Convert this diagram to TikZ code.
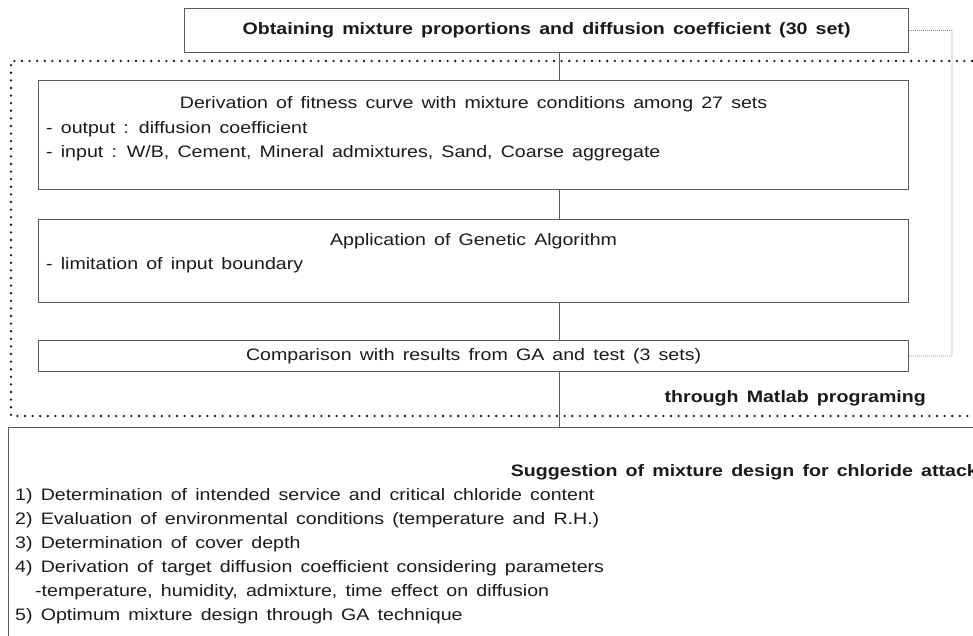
\documentclass[tikz,border=0pt]{standalone}
\usepackage{fontspec}
\setmainfont{Liberation Sans}[FakeStretch=1.18, WordSpace=1.5]
\usetikzlibrary{positioning,calc}
\definecolor{frame}{HTML}{5A5A5A}
\definecolor{ink}{HTML}{1A1A1A}
\definecolor{lead}{HTML}{8C8C8C}

\begin{document}
\begin{tikzpicture}[x=1pt, y=-1pt, font=\fontsize{16.6}{20}\selectfont, text=ink,
      box/.style={draw=frame, line width=1.2pt, anchor=north west, inner sep=0pt},
      title/.style={inner sep=0pt, anchor=center},
      item/.style={inner sep=0pt, anchor=west},
      heavy/.style={inner sep=0pt, anchor=east, font=\fontsize{16.6}{20}\selectfont\bfseries},
      link/.style={draw=frame, line width=0.9pt},
      loop/.style={draw=lead, line width=0.8pt, dash pattern=on 1pt off 1pt},
      zone/.style={draw=ink, line width=2.6pt, dash pattern=on 0pt off 7.6pt, line cap=round}]
    \useasboundingbox (0,0) rectangle (973,636);
    \clip (0,0) rectangle (973,636);
    \coordinate (mid) at (559,0);

    % boxes
    \node[box, minimum width=724pt, minimum height=44pt] (obtain) at (184,8) {};
    \node[box, minimum width=870pt, minimum height=109pt] (fitness) at (38,80) {};
    \node[box, minimum width=870pt, minimum height=83pt] (ga) at (38,219) {};
    \node[box, minimum width=870pt, minimum height=31pt] (compare) at (38,340) {};
    \node[box, minimum width=1100pt, minimum height=300pt] (suggest) at (8,427) {};

    % matlab zone
    \draw[zone] (1010,61) -- (11,61) -- (11,416) -- (1010,416);
    \node[heavy] (matlab) at (926,398) {through Matlab programing};

    % texts
    \node[title, font=\fontsize{16.6}{20}\selectfont\bfseries] (obtaintxt) at (obtain.center)
        {Obtaining mixture proportions and diffusion coefficient (30 set)};
    \node[title] (fitnesstxt) at (fitness.north |- 0,104) {Derivation of fitness curve with mixture conditions among 27 sets};
    \node[item] (fitout) at (46,129) {- output : diffusion coefficient};
    \node[item] (fitin) at (46,153) {- input : W/B, Cement, Mineral admixtures, Sand, Coarse aggregate};
    \node[title] (gatxt) at (ga.north |- 0,241) {Application of Genetic Algorithm};
    \node[item] (galim) at (46,265) {- limitation of input boundary};
    \node[title] (comparetxt) at (compare.center) {Comparison with results from GA and test (3 sets)};

    \node[heavy] (suggesttxt) at (978,472) {Suggestion of mixture design for chloride attack};
    \node[item] (s1) at (15,496) {1) Determination of intended service and critical chloride content};
    \node[item] (s2) at (15,520) {2) Evaluation of environmental conditions (temperature and R.H.)};
    \node[item] (s3) at (15,544) {3) Determination of cover depth};
    \node[item] (s4) at (15,568) {4) Derivation of target diffusion coefficient considering parameters};
    \node[item] (s4a) at (35,592) {-temperature, humidity, admixture, time effect on diffusion};
    \node[item] (s5) at (15,616) {5) Optimum mixture design through GA technique};

    % connectors
    \draw[link] (obtain.south -| mid) -- (fitness.north -| mid);
    \draw[link] (fitness.south -| mid) -- (ga.north -| mid);
    \draw[link] (ga.south -| mid) -- (compare.north -| mid);
    \draw[link] (compare.south -| mid) -- (suggest.north -| mid);
    \draw[loop] (obtain.east) -| (952,356) -- (compare.east);
  \end{tikzpicture}
\end{document}
